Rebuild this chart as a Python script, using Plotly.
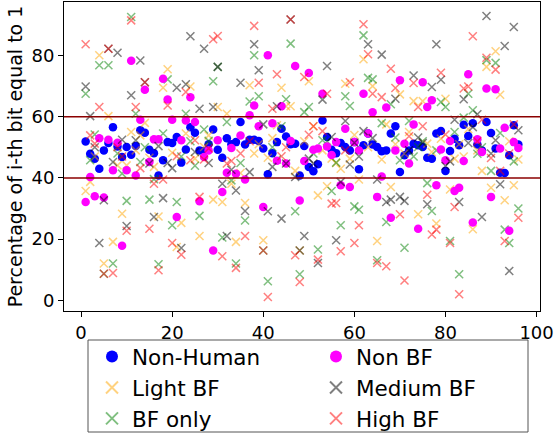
import plotly.graph_objects as go

x_idx = list(range(1, 97))

non_human = [51.9, 47.9, 46.3, 43.0, 49.0, 51.4, 56.6, 50.3, 46.8, 50.1, 47.6, 50.4, 55.6, 54.8, 49.2, 48.1,
             40.8, 45.8, 51.7, 51.4, 53.4, 45.0, 49.3, 56.6, 54.8, 49.0, 48.8, 51.0, 55.8, 49.2, 46.6, 53.0,
             51.0, 51.7, 58.3, 50.9, 52.5, 52.5, 52.1, 49.6, 41.2, 48.1, 51.7, 56.1, 53.5, 51.0, 51.2, 40.8,
             50.4, 43.6, 42.2, 44.5, 58.8, 53.4, 49.2, 48.1, 51.4, 50.1, 49.0, 51.7, 42.8, 50.7, 54.5, 50.9,
             50.1, 48.7, 49.0, 54.5, 56.9, 41.9, 47.4, 49.0, 51.2, 50.7, 50.1, 46.6, 46.3, 54.5, 55.3, 42.3,
             48.8, 52.8, 50.7, 57.4, 53.7, 57.9, 50.9, 49.0, 58.3, 54.7, 49.6, 41.7, 41.6, 47.4, 57.2, 50.9]

non_bf = [32.1, 40.3, 34.0, 53.0, 33.6, 52.5, 42.5, 51.5, 17.8, 42.5, 78.3, 40.8, 59.0, 68.8, 45.2, 52.6,
          52.6, 72.4, 65.6, 59.0, 27.2, 52.3, 58.8, 66.4, 58.3, 32.4, 46.8, 49.0, 16.3, 52.3, 35.4, 41.7,
          49.8, 41.4, 53.9, 39.5, 60.5, 63.7, 56.9, 30.5, 80.1, 57.9, 45.6, 63.4, 44.7, 52.1, 76.6, 32.6,
          45.5, 74.3, 49.2, 49.6, 67.5, 50.3, 47.5, 51.7, 37.6, 56.1, 37.0, 51.7, 49.0, 67.5, 54.5, 61.5,
          33.8, 40.5, 63.0, 27.0, 49.0, 71.9, 51.2, 44.7, 57.5, 23.4, 71.3, 63.2, 65.4, 37.6, 49.3, 45.8,
          52.1, 35.7, 36.8, 45.5, 73.9, 25.4, 52.6, 48.5, 69.2, 33.8, 69.0, 49.6, 56.4, 22.7, 51.7, 49.8]

light_bf = [35.7, 38.7, 47.0, 80.1, 12.0, 60.2, 19.1, 44.1, 28.3, 44.1, 55.0, 49.0, 53.9, 58.0, 46.6, 43.6,
            27.4, 69.5, 75.5, 48.2, 17.4, 25.3, 54.5, 69.9, 46.3, 21.0, 50.1, 53.9, 32.9, 63.2, 32.1, 61.0,
            38.1, 19.1, 41.6, 31.8, 70.3, 48.0, 51.0, 19.6, 46.6, 53.0, 57.2, 69.5, 63.4, 63.4, 42.3, 16.3,
            52.0, 71.6, 56.9, 34.3, 49.0, 37.3, 46.3, 44.9, 43.0, 70.8, 46.3, 54.0, 39.5, 78.8, 50.0, 70.0,
            19.4, 46.0, 57.5, 37.0, 51.0, 67.3, 48.0, 55.0, 65.1, 28.1, 65.1, 51.2, 48.5, 25.1, 52.8, 65.9,
            36.2, 46.3, 51.0, 47.0, 56.0, 23.2, 49.0, 42.3, 76.3, 36.8, 81.4, 67.2, 32.7, 52.0, 37.6, 46.0]

medium_bf = [69.9, 60.2, 50.0, 18.7, 32.7, 82.2, 45.2, 80.9, 52.5, 24.3, 67.0, 52.3, 78.4, 71.3, 44.7, 27.2,
             50.4, 33.4, 44.9, 43.2, 69.5, 17.1, 70.6, 86.3, 48.5, 62.6, 82.2, 44.9, 63.2, 76.3, 38.1, 21.0,
             42.7, 35.9, 71.1, 29.2, 41.9, 83.7, 75.2, 57.5, 29.1, 43.6, 63.4, 26.7, 44.7, 91.8, 40.3, 16.3,
             21.0, 46.3, 44.7, 12.2, 65.6, 76.6, 53.4, 19.6, 38.7, 58.6, 44.4, 51.5, 47.0, 55.3, 83.7, 53.0,
             39.5, 80.3, 32.1, 32.9, 65.9, 33.8, 32.5, 49.0, 73.5, 53.2, 51.4, 31.4, 69.7, 83.7, 72.1, 43.9,
             45.4, 59.0, 32.1, 65.7, 51.4, 56.6, 60.8, 27.2, 92.9, 48.0, 52.3, 37.9, 83.1, 9.6, 89.3, 55.6]

bf_only = [67.5, 45.8, 54.2, 76.8, 8.7, 76.8, 12.0, 48.0, 41.4, 32.5, 92.6, 61.0, 45.2, 50.0, 32.9, 39.6,
           11.8, 54.5, 72.2, 24.5, 32.1, 47.0, 61.0, 52.0, 44.0, 27.6, 55.8, 52.1, 71.6, 76.3, 20.5, 58.3,
           39.2, 12.0, 44.9, 26.1, 65.0, 80.1, 66.7, 16.3, 6.2, 50.0, 46.0, 56.9, 65.7, 83.9, 29.1, 8.5,
           61.5, 63.2, 48.0, 16.6, 52.3, 52.0, 35.7, 45.0, 24.5, 66.7, 63.5, 30.7, 29.6, 86.6, 72.7, 72.2,
           13.1, 57.9, 25.6, 64.1, 53.2, 45.8, 17.2, 58.6, 47.0, 50.1, 52.0, 38.3, 29.2, 49.0, 64.8, 63.2,
           19.4, 55.0, 8.5, 59.7, 67.5, 62.1, 47.9, 50.0, 78.5, 42.3, 77.6, 54.7, 23.1, 18.7, 45.4, 30.0]

high_bf = [83.7, 53.9, 51.2, 63.2, 8.7, 82.2, 8.9, 50.0, 47.0, 22.7, 91.5, 63.2, 43.2, 71.3, 23.4, 38.1,
           9.8, 39.5, 63.7, 18.7, 47.1, 14.9, 68.1, 45.8, 52.3, 33.8, 46.0, 49.6, 85.3, 86.4, 14.4, 44.7,
           45.5, 10.6, 48.0, 21.0, 52.0, 89.7, 71.1, 16.3, 1.1, 62.6, 73.9, 47.1, 50.0, 91.8, 14.7, 6.0,
           73.0, 54.1, 56.9, 13.3, 55.3, 67.5, 31.6, 31.8, 16.0, 49.0, 71.3, 18.7, 24.5, 90.2, 80.4, 67.5,
           12.2, 66.4, 11.1, 75.7, 69.4, 28.1, 6.5, 53.6, 71.0, 63.2, 56.9, 34.5, 21.5, 23.1, 74.4, 54.2,
           18.7, 30.5, 2.0, 69.2, 69.9, 86.3, 52.0, 59.0, 79.3, 46.5, 75.4, 42.3, 19.4, 48.0, 57.5, 27.0]

thresholds = [40, 60]
x_ticks = [0, 20, 40, 60, 80, 100]
y_ticks = [0, 20, 40, 60, 80]

FONT = "DejaVu Sans"

# plot order (matplotlib order), legend order set by legendrank
series = [
    ("Non-Human", non_human, "dot", "#0000ff", 1),
    ("Light BF", light_bf, "x", "rgba(255,165,0,0.5)", 3),
    ("BF only", bf_only, "x", "rgba(0,128,0,0.5)", 5),
    ("Non BF", non_bf, "dot", "#ff00ff", 2),
    ("Medium BF", medium_bf, "x", "rgba(0,0,0,0.5)", 4),
    ("High BF", high_bf, "x", "rgba(255,0,0,0.5)", 6),
]

fig = go.Figure()
for name, vals, kind, color, rank in series:
    if kind == "dot":
        marker = dict(symbol="circle", size=8.5, color=color, line=dict(width=0))
    else:
        marker = dict(symbol="x-thin", size=8, color=color, line=dict(width=1.5, color=color))
    fig.add_trace(go.Scatter(x=x_idx, y=vals, mode="markers", name=name,
                             marker=marker, legendrank=rank))

for t in thresholds:
    fig.add_shape(type="line", xref="paper", x0=0, x1=1, yref="y", y0=t, y1=t,
                  line=dict(color="#8b0000", width=1.5), layer="above")

# legend frame (pixel geometry converted to paper coords)
L, R, T, B = 64, 540, 2, 311
W, H = R - L, B - T
def px_x(p):
    return (p - L) / W
def px_y(p):
    return (B - p) / H
fig.add_shape(type="rect", xref="paper", yref="paper",
              x0=px_x(88), x1=px_x(528), y0=px_y(432), y1=px_y(340),
              line=dict(color="#555", width=1), fillcolor="rgba(0,0,0,0)")

fig.update_layout(
    width=558, height=439,
    margin=dict(l=L, r=558 - R, t=T, b=439 - B, autoexpand=False),
    paper_bgcolor="white", plot_bgcolor="white",
    font=dict(family=FONT, size=18, color="black"),
    showlegend=True,
    legend=dict(orientation="h", x=px_x(92), xanchor="left", y=px_y(336), yanchor="top",
                borderwidth=0, bgcolor="rgba(0,0,0,0)", font=dict(size=21.5, family=FONT),
                entrywidth=179, entrywidthmode="pixels", traceorder="normal",
                itemsizing="constant"),
)
fig.update_xaxes(range=[-3.75, 100.75], tickvals=x_ticks, showgrid=False, zeroline=False,
                 showline=True, linecolor="black", linewidth=1, mirror=True,
                 ticks="outside", ticklen=5, tickcolor="black", tickfont=dict(size=18))
fig.update_yaxes(range=[-3.5, 97.5], tickvals=y_ticks, showgrid=False, zeroline=False,
                 showline=True, linecolor="black", linewidth=1, mirror=True,
                 ticks="outside", ticklen=5, tickcolor="black", tickfont=dict(size=18),
                 title=dict(text="Percentage of i-th bit equal to 1", font=dict(size=19), standoff=3))

fig.write_html("out.html")
